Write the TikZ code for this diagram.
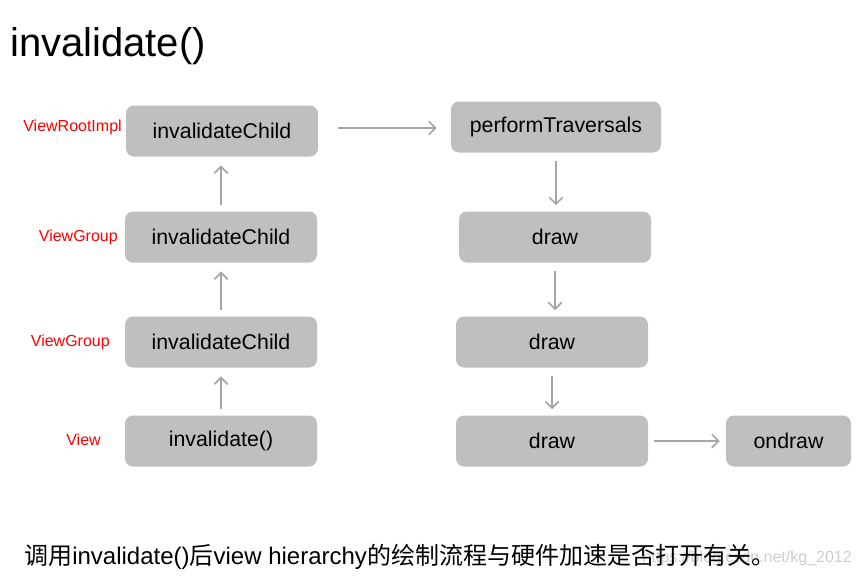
\documentclass[tikz,border=0pt]{standalone}
\usepackage{fontspec}
\setmainfont{Liberation Sans}
\newfontfamily\cjk{Noto Sans CJK SC}
\usetikzlibrary{arrows.meta,calc}
\definecolor{BoxClr}{RGB}{191,191,191}
\definecolor{FlowClr}{RGB}{166,166,166}
\definecolor{MarkClr}{RGB}{205,205,205}
\begin{document}
\begin{tikzpicture}[x=0.75pt,y=-0.75pt,
  stepbox/.style={fill=BoxClr,rounded corners=6pt,minimum height=51*0.75pt,
    inner sep=0pt,font=\fontsize{16}{19}\selectfont},
  classlbl/.style={anchor=east,text=red,inner sep=0pt,font=\fontsize{12}{14}\selectfont},
  flow/.style={draw=FlowClr,line width=1.3pt,-{Straight Barb[length=5pt,width=10pt]}}]
\useasboundingbox (0,0) rectangle (862,578);

\node[anchor=west,inner sep=0pt,font=\fontsize{30}{36}\selectfont] (title) at (10,46) {invalidate()};

% left column
\node[stepbox,minimum width=192*0.75pt] (child1) at (222,131) {invalidateChild};
\node[stepbox,minimum width=192*0.75pt] (child2) at (221,237) {invalidateChild};
\node[stepbox,minimum width=192*0.75pt] (child3) at (221,342) {invalidateChild};
\node[stepbox,minimum width=192*0.75pt] (inval) at (221,441) {invalidate()};

\node[classlbl] (lblroot) at (122,127) {ViewRootImpl};
\node[classlbl] (lblgrpA) at (118,237) {ViewGroup};
\node[classlbl] (lblgrpB) at (110,342) {ViewGroup};
\node[classlbl] (lblview) at (101,440) {View};

% right column
\node[stepbox,minimum width=210*0.75pt] (perform) at (556,127) {performTraversals};
\node[stepbox,minimum width=192*0.75pt] (drawA) at (555,237) {draw};
\node[stepbox,minimum width=192*0.75pt] (drawB) at (552,342) {draw};
\node[stepbox,minimum width=192*0.75pt] (drawC) at (552,441) {draw};
\node[stepbox,minimum width=125*0.75pt] (ondraw) at (788.5,441) {ondraw};

\draw[flow,shorten <=4.5pt,shorten >=6.5pt] (inval.north) -- (inval.north |- child3.south);
\draw[flow,shorten <=4.5pt,shorten >=6.5pt] (child3.north) -- (child3.north |- child2.south);
\draw[flow,shorten <=4.5pt,shorten >=6.5pt] (child2.north) -- (child2.north |- child1.south);
\draw[flow,shorten <=15pt,shorten >=10.5pt] ($(child1.east)+(0,-3)$) -- ($(child1.east -| perform.west)+(0,-3)$);
\draw[flow,shorten <=6pt,shorten >=4.5pt] (perform.south) -- (perform.south |- drawA.north);
\draw[flow,shorten <=6pt,shorten >=4.5pt] (drawA.south) -- (drawA.south |- drawB.north);
\draw[flow,shorten <=6pt,shorten >=4.5pt] (drawB.south) -- (drawB.south |- drawC.north);
\draw[flow,shorten <=4pt,shorten >=4.5pt] (drawC.east) -- (ondraw.west);

% caption with faint mark
\node[anchor=east,inner sep=0pt,text=MarkClr,font=\fontsize{12}{14}\selectfont] (mark) at (852,558) {https://blog.csdn.net/kg\_2012};
\node[anchor=west,inner sep=0pt,font=\fontsize{18}{21}\selectfont] (caption) at (24,557)
  {{\cjk 调用}invalidate(){\cjk 后}view hierarchy{\cjk 的绘制流程与硬件加速是否打开有关。}};
\end{tikzpicture}
\end{document}
